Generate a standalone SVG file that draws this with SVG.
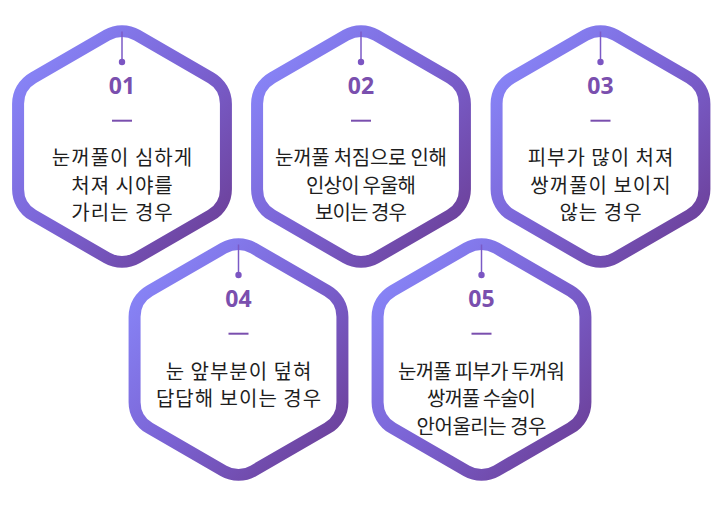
<svg xmlns="http://www.w3.org/2000/svg" xmlns:xlink="http://www.w3.org/1999/xlink" width="723" height="507" viewBox="0 0 723 507">
<defs>
<linearGradient id="g" x1="0" y1="0" x2="1" y2="1">
<stop offset="0" stop-color="#8a8cff"/>
<stop offset="0.5" stop-color="#7b63d4"/>
<stop offset="1" stop-color="#6a3a8f"/>
</linearGradient>
<path id="hex" d="M -15,-111.34 A 30 30 0 0 1 15,-111.34 L 88.92,-68.66 A 30 30 0 0 1 103.92,-42.68 L 103.92,42.68 A 30 30 0 0 1 88.92,68.66 L 15,111.34 A 30 30 0 0 1 -15,111.34 L -88.92,68.66 A 30 30 0 0 1 -103.92,42.68 L -103.92,-42.68 A 30 30 0 0 1 -88.92,-68.66 Z"/>
<style>
.frame{fill:#fff;stroke:url(#g);stroke-width:12}
.pin{stroke:#7b5ac6;stroke-width:1.5}
.dot{fill:#7b55c2}
.num{font-family:"Noto Sans","Noto Sans CJK KR",sans-serif;font-weight:700;font-size:23px;fill:#7a4fae;text-anchor:middle}
.dash{fill:#7a4fae}
.txt{font-family:"Noto Sans CJK KR","Noto Sans",sans-serif;font-size:20px;fill:#1e1e1e;text-anchor:middle}
.wide{letter-spacing:1px}
</style>
</defs>
<rect width="723" height="507" fill="#fff"/>
<g id="node01" transform="translate(122,146.5)">
<use xlink:href="#hex" href="#hex" class="frame"/>
<line class="pin" x1="0" y1="-115" x2="0" y2="-84.5"/>
<circle class="dot" cx="0" cy="-84.5" r="3.2"/>
<text class="num" x="0" y="-52.5">01</text>
<rect class="dash" x="-10" y="-26.8" width="20" height="2"/>
<text class="txt wide" x="0.5" y="18.5">눈꺼풀이 심하게</text>
<text class="txt wide" x="0.5" y="46">처져 시야를</text>
<text class="txt wide" x="0.5" y="73.5">가리는 경우</text>
</g>
<g id="node02" transform="translate(361,146.5)">
<use xlink:href="#hex" href="#hex" class="frame"/>
<line class="pin" x1="0" y1="-115" x2="0" y2="-84.5"/>
<circle class="dot" cx="0" cy="-84.5" r="3.2"/>
<text class="num" x="0" y="-52.5">02</text>
<rect class="dash" x="-10" y="-26.8" width="20" height="2"/>
<text class="txt" x="0" y="18.5" textLength="172" lengthAdjust="spacing">눈꺼풀 처짐으로 인해</text>
<text class="txt" x="0" y="46" textLength="110" lengthAdjust="spacing">인상이 우울해</text>
<text class="txt" x="0" y="73.5" textLength="92" lengthAdjust="spacing">보이는 경우</text>
</g>
<g id="node03" transform="translate(600.5,146.5)">
<use xlink:href="#hex" href="#hex" class="frame"/>
<line class="pin" x1="0" y1="-115" x2="0" y2="-84.5"/>
<circle class="dot" cx="0" cy="-84.5" r="3.2"/>
<text class="num" x="0" y="-52.5">03</text>
<rect class="dash" x="-10" y="-26.8" width="20" height="2"/>
<text class="txt wide" x="0.5" y="18.5">피부가 많이 처져</text>
<text class="txt wide" x="0.5" y="46">쌍꺼풀이 보이지</text>
<text class="txt wide" x="0.5" y="73.5">않는 경우</text>
</g>
<g id="node04" transform="translate(238.5,359.5)">
<use xlink:href="#hex" href="#hex" class="frame"/>
<line class="pin" x1="0" y1="-115" x2="0" y2="-84.5"/>
<circle class="dot" cx="0" cy="-84.5" r="3.2"/>
<text class="num" x="0" y="-52.5">04</text>
<rect class="dash" x="-10" y="-26.8" width="20" height="2"/>
<text class="txt wide" x="0.5" y="19">눈 앞부분이 덮혀</text>
<text class="txt wide" x="0.5" y="46.5">답답해 보이는 경우</text>
</g>
<g id="node05" transform="translate(481.5,359.5)">
<use xlink:href="#hex" href="#hex" class="frame"/>
<line class="pin" x1="0" y1="-115" x2="0" y2="-84.5"/>
<circle class="dot" cx="0" cy="-84.5" r="3.2"/>
<text class="num" x="0" y="-52.5">05</text>
<rect class="dash" x="-10" y="-26.8" width="20" height="2"/>
<text class="txt" x="0" y="19" textLength="167" lengthAdjust="spacing">눈꺼풀 피부가 두꺼워</text>
<text class="txt" x="0" y="46.5" textLength="109" lengthAdjust="spacing">쌍꺼풀 수술이</text>
<text class="txt" x="0" y="74" textLength="130" lengthAdjust="spacing">안어울리는 경우</text>
</g>
<g id="connectors"></g>
</svg>
